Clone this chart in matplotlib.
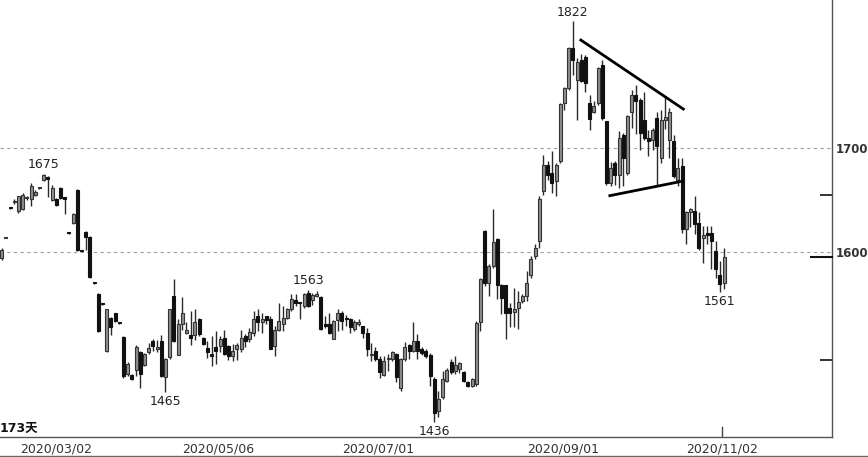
import matplotlib
matplotlib.use("Agg")
import matplotlib.pyplot as plt
from matplotlib.lines import Line2D
import numpy as np

# daily candles, 173 trading days
opens = [1594, 1613.5, 1642.5, 1648, 1639, 1641, 1651.5, 1651, 1655, 1661,
         1669, 1672, 1650, 1651, 1661, 1652.5, 1618.5, 1628, 1659, 1601.5,
         1619, 1614, 1570, 1559, 1550, 1504, 1536.5, 1540.5, 1531.5, 1518,
         1482, 1481, 1486, 1503, 1490.5, 1503, 1514, 1506, 1514, 1479,
         1498.7, 1557, 1500.5, 1530, 1521.5, 1519.5, 1520, 1535, 1517, 1507,
         1501, 1507.7, 1509.2, 1517, 1509, 1499, 1506, 1506, 1519, 1516,
         1522, 1538, 1532.3, 1538, 1535, 1509, 1525, 1530, 1536.5, 1545,
         1553.5, 1551.5, 1548, 1560, 1553.5, 1557, 1556, 1530, 1530, 1516,
         1534, 1541, 1536.5, 1535.6, 1525.3, 1530, 1528, 1522, 1500.3, 1504.4,
         1497, 1481, 1496.5, 1496.5, 1501, 1469, 1496.5, 1510, 1504.4, 1514,
         1506.7, 1504.4, 1500.3, 1477, 1446.7, 1459.6, 1475.6, 1494, 1485, 1486.8,
         1484.2, 1474, 1470.8, 1472.4, 1532.3, 1619.8, 1570, 1586, 1612.5, 1567.6,
         1567.6, 1546, 1542, 1546, 1552.5, 1557.3, 1578, 1595.8, 1610, 1658.3,
         1684, 1676, 1668, 1687, 1743, 1757.7, 1796, 1765.7, 1785, 1788,
         1743, 1735, 1743, 1780, 1725.6, 1666.3, 1685.6, 1674.4, 1712.8, 1676,
         1735, 1751, 1746.4, 1727, 1709.6, 1708, 1728.8, 1690.4, 1727, 1708,
         1706.4, 1669.5, 1682.3, 1621.4, 1638, 1639, 1628, 1613, 1617.6, 1618.3,
         1600.6, 1577.2, 1569.5]
highs = [1604, 1614, 1643, 1651, 1654, 1657, 1654, 1666, 1659, 1662,
         1675, 1672.5, 1664, 1652, 1662, 1653, 1619, 1637, 1660, 1602,
         1620, 1615, 1570.5, 1560, 1550.5, 1545, 1537, 1541, 1532, 1519,
         1494, 1482, 1510, 1504, 1502, 1512, 1516, 1515, 1519.6, 1498,
         1545, 1574, 1535, 1556, 1532, 1543, 1545, 1536, 1518, 1514,
         1519, 1523.6, 1519, 1524.6, 1510, 1511, 1512, 1525, 1520.5, 1526,
         1543, 1544.5, 1541.3, 1538.5, 1538, 1528.5, 1551, 1548, 1546, 1559,
         1559, 1552, 1560.6, 1563, 1560.6, 1562, 1557, 1538, 1541, 1534,
         1545, 1543, 1538.7, 1536.5, 1534, 1535.6, 1528.5, 1526, 1512, 1507.7,
         1499, 1499.6, 1501, 1504.4, 1502, 1498, 1512.5, 1511, 1532, 1520.5,
         1507.7, 1506, 1502, 1479, 1466, 1485, 1488, 1496.5, 1499.6, 1493.3,
         1485, 1475, 1478, 1533, 1575, 1620.5, 1588, 1640.7, 1613.5, 1568.6,
         1568, 1550.3, 1565.4, 1562, 1559, 1581, 1596, 1607, 1653.5, 1693.6,
         1687, 1696.7, 1685.6, 1743.6, 1758.6, 1797.7, 1822, 1786.5, 1791, 1789.7,
         1751, 1745, 1778.5, 1785, 1726, 1686, 1687, 1716, 1714.4, 1732,
         1756, 1761, 1748, 1754.4, 1717.6, 1719, 1735, 1736.8, 1750, 1738.5,
         1712.8, 1690.4, 1690.4, 1639, 1642, 1653.5, 1638, 1625, 1625, 1624.6,
         1610.2, 1591, 1603.8]
lows = [1592, 1613, 1641, 1646, 1637, 1640, 1650, 1644, 1654, 1660.5,
        1668, 1653, 1649, 1644, 1651, 1636, 1617.5, 1627, 1601, 1600.5,
        1602, 1575, 1569, 1523, 1549, 1503, 1520, 1532, 1530.5, 1478,
        1480, 1476, 1480, 1469, 1489.5, 1501, 1504, 1503, 1479, 1465,
        1496.5, 1513, 1500, 1525, 1520.5, 1510, 1515, 1519, 1510, 1498,
        1490, 1492, 1503, 1500, 1496, 1495, 1496, 1503, 1508, 1512.5,
        1519, 1523.6, 1522, 1530, 1506, 1499, 1523.6, 1523.6, 1535, 1543,
        1548, 1535, 1546, 1547, 1549, 1556, 1524.6, 1526, 1520.5, 1515.7,
        1523.6, 1525, 1528.5, 1522, 1524, 1528.5, 1517, 1499.6, 1495, 1495,
        1478, 1480, 1485, 1494.6, 1474, 1466, 1495, 1496.5, 1503, 1496.5,
        1500.3, 1498, 1470.8, 1436, 1441, 1458, 1474, 1482, 1482, 1483,
        1474, 1470, 1470, 1470.8, 1523.6, 1567, 1557, 1584.6, 1554, 1540,
        1515.6, 1527, 1527, 1525.3, 1550.6, 1552.5, 1575, 1592.6, 1603.8, 1655,
        1669.5, 1656.7, 1653.5, 1685.6, 1736.8, 1756, 1770.5, 1726.5, 1764, 1754,
        1717, 1733.6, 1741.6, 1727.3, 1664.7, 1663, 1664.7, 1661.5, 1663, 1674.4,
        1719, 1713, 1698.4, 1708, 1692, 1698.4, 1664.7, 1685.6, 1718, 1690.4,
        1671, 1663, 1618.3, 1607, 1624, 1616.6, 1602, 1589.4, 1607, 1583.7,
        1575, 1561, 1563.7]
closes = [1602, 1613.5, 1642, 1648.5, 1653.5, 1655, 1652.5, 1663, 1658, 1661.5,
          1674, 1670, 1661.5, 1645, 1652, 1651, 1618, 1636, 1602, 1601,
          1614, 1576, 1569.5, 1524, 1549.5, 1544.5, 1527, 1533, 1531, 1480,
          1491.5, 1477, 1508, 1482, 1501, 1507.5, 1509, 1508, 1480, 1496.5,
          1544.5, 1514, 1530, 1540.5, 1524.6, 1517, 1532, 1520.5, 1511, 1503,
          1499, 1504.4, 1515.7, 1501, 1499.6, 1504.4, 1510, 1517, 1514, 1523,
          1535.6, 1532, 1535.6, 1534.2, 1506.7, 1525, 1533, 1536.5, 1544.5, 1554.8,
          1551, 1551, 1559, 1548, 1558, 1559, 1525.3, 1528.5, 1521.5, 1533,
          1541, 1533, 1535, 1527, 1532.3, 1532, 1522, 1506, 1500.8, 1496.4,
          1484, 1495, 1497, 1503.5, 1479, 1497, 1508, 1504.4, 1514, 1504.4,
          1502, 1499, 1480.4, 1445, 1458, 1477, 1486, 1483.7, 1490.7, 1492.6,
          1475.6, 1470.8, 1477, 1531.7, 1574, 1570, 1586, 1609, 1567.6, 1555.6,
          1540.7, 1540.7, 1545.2, 1551.5, 1557.3, 1570, 1592.6, 1603.8, 1651, 1684,
          1674.4, 1666.3, 1684, 1742.6, 1757.7, 1796, 1785, 1783.3, 1765, 1762.5,
          1728, 1740, 1777, 1729, 1666.3, 1681, 1674.4, 1709.6, 1690.4, 1730.4,
          1751, 1744.8, 1714.4, 1709.6, 1706.4, 1717.6, 1701.5, 1727, 1730, 1735,
          1672.7, 1680.8, 1621.4, 1638, 1641.3, 1626.3, 1603.8, 1616.3, 1615.7, 1610,
          1583.7, 1568.6, 1594.8]

# marked extremes: (candle index, value, above/below)
marks = [(10, 1675, "hi"), (39, 1465, "lo"), (73, 1563, "hi"),
         (103, 1436, "lo"), (136, 1822, "hi"), (171, 1561, "lo")]

# triangle lines drawn by hand on the chart
tri_upper = ([137.9, 162.3], [1804, 1737.5])
tri_lower = ([144.8, 162.1], [1654, 1668])

date_pos = [13, 51.5, 89.6, 133.6, 171.5]
date_labels = ["2020/03/02", "2020/05/06", "2020/07/01", "2020/09/01", "2020/11/02"]
price_ticks = [1600, 1700]
minor_ticks = [1496, 1655]

W, H = 868, 457
fig = plt.figure(figsize=(W / 100, H / 100), dpi=100)
ax = fig.add_axes([0, (H - 437) / H, 832 / W, 437 / H])

o = np.array(opens)
h = np.array(highs)
l = np.array(lows)
c = np.array(closes)
x = np.arange(len(o))
up = c >= o

ax.vlines(x, l, h, color="#2a2a2a", lw=1.0, zorder=2)
bot = np.minimum(o, c)
hgt = np.maximum(np.abs(c - o), 0.9)
ax.bar(x[up], hgt[up], bottom=bot[up], width=0.72, color="#8e8e8e",
       edgecolor="#333333", linewidth=0.8, zorder=3)
ax.bar(x[~up], hgt[~up], bottom=bot[~up], width=0.72, color="#111111",
       edgecolor="#111111", linewidth=0.8, zorder=3)

ax.plot(*tri_upper, color="black", lw=2.0, zorder=4)
ax.plot(*tri_lower, color="black", lw=2.0, zorder=4)

for i, v, where in marks:
    if where == "hi":
        ax.annotate(str(v), (i, v), xytext=(0, 2), textcoords="offset points",
                    ha="center", va="bottom", fontsize=9, color="#222")
    else:
        ax.annotate(str(v), (i, v), xytext=(0, -2), textcoords="offset points",
                    ha="center", va="top", fontsize=9, color="#222")

for p in price_ticks:
    ax.axhline(p, color="#a0a0a0", lw=0.8, ls=(0, (3, 3)), zorder=1)

ax.set_xlim(-0.4, 197.7)
ax.set_ylim(1421.4, 1842.6)

for s in ["left", "top"]:
    ax.spines[s].set_visible(False)
for s in ["right", "bottom"]:
    ax.spines[s].set_color("#555555")
    ax.spines[s].set_linewidth(1.0)

ax.yaxis.tick_right()
ax.set_yticks(price_ticks)
ax.set_yticklabels([str(p) for p in price_ticks], fontsize=8.5, color="#333333",
                   fontweight="bold")
ax.tick_params(axis="y", which="major", length=0, pad=3)
ax.set_yticks(minor_ticks, minor=True)
ax.tick_params(axis="y", which="minor", direction="in", length=9, width=1.2,
               color="#111111")

ax.set_xticks(date_pos)
ax.set_xticklabels(date_labels, fontsize=9, color="#333333")
ax.tick_params(axis="x", length=0, pad=4)
# only the last date carries a visible tick mark
ax.plot([date_pos[-1], date_pos[-1]], [0, 0.022], transform=ax.get_xaxis_transform(),
        color="#444444", lw=1.0, zorder=5)

# last price marker on the right edge
ax.plot([0.975, 1.0], [closes[-1], closes[-1]], transform=ax.get_yaxis_transform(),
        color="#111111", lw=1.5, clip_on=False, zorder=5)

ax.text(0.0, 0.02, "173天", transform=ax.transAxes, ha="left", va="center",
        fontsize=9, color="#111111", fontweight="bold",
        family=["DejaVu Sans", "Noto Sans CJK SC"])

fig.add_artist(Line2D([0, 1], [1.5 / H, 1.5 / H], color="#666666", lw=1.0))

fig.savefig("out.png", dpi=100)
